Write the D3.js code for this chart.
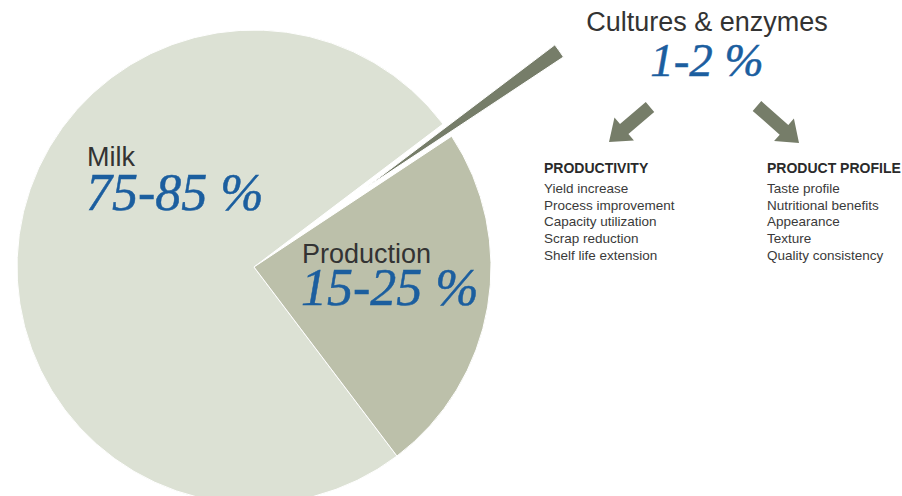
<!DOCTYPE html>
<html>
<head>
<meta charset="utf-8">
<script src="https://cdn.jsdelivr.net/npm/d3@7"></script>
<style>
  body { margin: 0; background: #fff; }
  svg { display: block; }
</style>
</head>
<body>
<div id="chart"></div>
<script>
// slice data (share of cheese cost)
const categories = ["Cultures & enzymes", "Production", "Milk"];
const shares = [1, 24, 75];
const rangeLabels = ["1-2 %", "15-25 %", "75-85 %"];
const sliceColors = ["#767d69", "#bcc0aa", "#dce1d4"];

// the two benefit lists
const listTitles = ["PRODUCTIVITY", "PRODUCT PROFILE"];
const productivityItems = ["Yield increase", "Process improvement", "Capacity utilization", "Scrap reduction", "Shelf life extension"];
const profileItems = ["Taste profile", "Nutritional benefits", "Appearance", "Texture", "Quality consistency"];

const width = 902, height = 496;
const cx = 254, cy = 267, radius = 237;
const explode = 137;
const blue = "#1b5e9f";
const sans = "'Liberation Sans', Arial, sans-serif";
const serif = "'Liberation Serif', 'Times New Roman', serif";

const svg = d3.select("#chart").append("svg")
    .attr("width", width)
    .attr("height", height);

const pie = d3.pie()
    .sort(null)
    .value(d => d.value)
    .startAngle(52.9 * Math.PI / 180)
    .endAngle(52.9 * Math.PI / 180 + 2 * Math.PI);

const data = categories.map((c, i) => ({name: c, value: shares[i], color: sliceColors[i]}));
const arcs = pie(data);

const arc = d3.arc().innerRadius(0).outerRadius(radius);

const g = svg.append("g").attr("transform", `translate(${cx},${cy})`);

// draw the big slices first, exploded wedge on top
g.selectAll(".slice")
    .data(arcs.slice().reverse())
    .enter()
    .append("path")
    .attr("class", "slice")
    .attr("d", arc)
    .attr("fill", d => d.data.color)
    .attr("stroke", "#fff")
    .attr("stroke-width", 1)
    .attr("transform", d => {
        if (d.data.name !== "Cultures & enzymes") return null;
        const mid = (d.startAngle + d.endAngle) / 2;
        return `translate(${Math.sin(mid) * explode},${-Math.cos(mid) * explode})`;
    });

// big labels
const labelPos = [
    {x: 707, y: 31, vy: 76, size: 47, anchor: "middle"},
    {x: 302, y: 263, vy: 305, size: 52, anchor: "start"},
    {x: 87, y: 166, vy: 210, size: 52, anchor: "start"}
];

labelPos.forEach((p, i) => {
    svg.append("text")
        .attr("x", p.x)
        .attr("y", p.y)
        .attr("text-anchor", p.anchor)
        .attr("font-family", sans)
        .attr("font-size", 27)
        .attr("fill", "#333")
        .text(categories[i]);
    svg.append("text")
        .attr("x", p.x + (p.anchor === "start" ? -1 : 0))
        .attr("y", p.vy)
        .attr("text-anchor", p.anchor)
        .attr("font-family", serif)
        .attr("font-style", "italic")
        .attr("font-size", p.size)
        .attr("fill", blue)
        .attr("stroke", blue)
        .attr("stroke-width", 0.5)
        .text(rangeLabels[i]);
});

// arrows pointing to the two lists
function arrowPath(len) {
    // local arrow pointing along +x, tail at origin
    const sw = 6.5, hw = 15, hl = 20;
    return `M0,${-sw}L${len - hl},${-sw}L${len - hl},${-hw}L${len},0L${len - hl},${hw}L${len - hl},${sw}L0,${sw}Z`;
}
const arrows = [
    {x1: 650, y1: 107, x2: 609, y2: 142},
    {x1: 757, y1: 106, x2: 799, y2: 143}
];
svg.selectAll(".arrow")
    .data(arrows)
    .enter()
    .append("path")
    .attr("class", "arrow")
    .attr("d", d => arrowPath(Math.hypot(d.x2 - d.x1, d.y2 - d.y1)))
    .attr("fill", sliceColors[0])
    .attr("transform", d => `translate(${d.x1},${d.y1}) rotate(${Math.atan2(d.y2 - d.y1, d.x2 - d.x1) * 180 / Math.PI})`);

// lists
const lists = [
    {x: 544, title: listTitles[0], items: productivityItems},
    {x: 767, title: listTitles[1], items: profileItems}
];
lists.forEach(l => {
    svg.append("text")
        .attr("x", l.x)
        .attr("y", 173)
        .attr("font-family", sans)
        .attr("font-weight", "bold")
        .attr("font-size", 14)
        .attr("fill", "#2a2a2a")
        .text(l.title);
    svg.selectAll(null)
        .data(l.items)
        .enter()
        .append("text")
        .attr("x", l.x)
        .attr("y", (d, i) => 193 + i * 16.7)
        .attr("font-family", sans)
        .attr("font-size", 13.5)
        .attr("fill", "#3a3a3a")
        .text(d => d);
});
</script>
</body>
</html>
